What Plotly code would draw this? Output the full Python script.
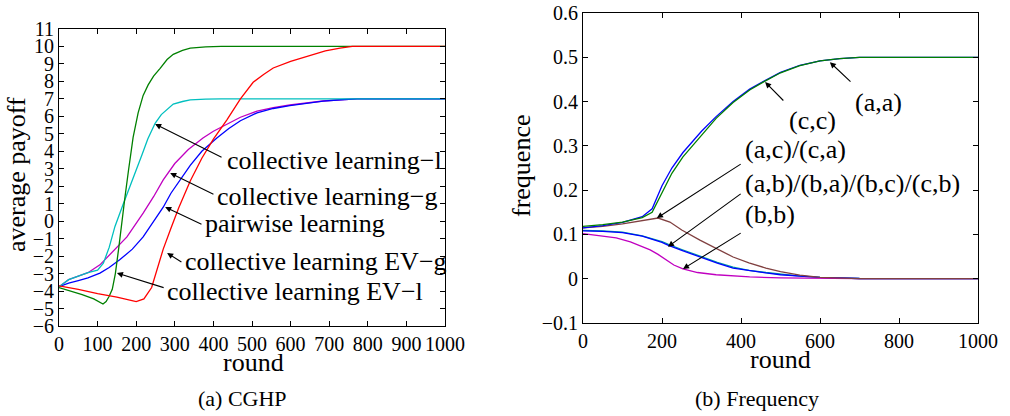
import plotly.graph_objects as go

# ---------------- data: (a) CGHP ----------------
cl_l_x = [0, 25, 50, 75, 100, 115, 130, 145, 165, 184, 200, 215, 230, 249, 265, 280, 296, 320, 340, 380, 420, 1000]
cl_l_y = [-3.75, -3.35, -3.15, -2.95, -2.8, -2.4, -1.5, -0.3, 0.9, 1.96, 2.9, 3.8, 4.7, 5.6, 6.1, 6.4, 6.7, 6.85, 6.94, 6.99, 7.0, 7.0]

cl_g_x = [0, 25, 50, 75, 106, 140, 176, 218, 245, 270, 300, 335, 373, 400, 430, 470, 513, 555, 598, 640, 684, 730, 772, 1000]
cl_g_y = [-3.75, -3.35, -3.15, -2.95, -2.5, -1.7, -0.9, 0.46, 1.4, 2.36, 3.3, 4.1, 4.76, 5.15, 5.5, 5.95, 6.3, 6.5, 6.65, 6.78, 6.88, 6.95, 7.0, 7.0]

pw_x = [0, 25, 50, 75, 106, 130, 158, 190, 218, 245, 270, 290, 313, 340, 370, 409, 440, 470, 513, 555, 598, 640, 684, 730, 772, 1000]
pw_y = [-3.75, -3.55, -3.4, -3.25, -2.97, -2.65, -2.2, -1.6, -0.9, 0.0, 0.8, 1.6, 2.36, 3.2, 4.0, 4.76, 5.3, 5.75, 6.2, 6.45, 6.62, 6.76, 6.87, 6.95, 7.0, 7.0]

ev_g_x = [0, 50, 100, 150, 200, 220, 240, 255, 270, 290, 310, 340, 370, 400, 435, 470, 503, 530, 555, 600, 642, 690, 728, 760, 1000]
ev_g_y = [-3.7, -3.9, -4.15, -4.35, -4.6, -4.45, -3.8, -2.7, -1.6, -0.4, 0.75, 2.3, 3.6, 4.7, 5.8, 7.0, 7.95, 8.4, 8.77, 9.15, 9.45, 9.75, 9.91, 10.0, 10.0]

ev_l_x = [0, 30, 60, 90, 114, 122, 130, 138, 146, 155, 163, 171, 180, 192, 205, 218, 231, 245, 262, 280, 296, 320, 340, 380, 420, 1000]
ev_l_y = [-3.8, -4.0, -4.2, -4.45, -4.74, -4.6, -4.3, -3.9, -3.0, -1.5, 0.1, 1.4, 2.9, 4.8, 6.2, 7.2, 7.8, 8.3, 8.75, 9.25, 9.55, 9.78, 9.9, 9.98, 10.0, 10.0]

# ---------------- data: (b) Frequency ----------------
aa_x = [0, 50, 100, 150, 175, 200, 225, 253, 300, 337, 380, 422, 456, 500, 549, 600, 650, 700, 1000]
aa_y = [0.115, 0.12, 0.127, 0.14, 0.158, 0.21, 0.25, 0.285, 0.333, 0.366, 0.4, 0.428, 0.445, 0.466, 0.482, 0.492, 0.497, 0.5, 0.5]

cc_x = [0, 50, 100, 150, 175, 200, 225, 253, 300, 337, 380, 422, 456, 500, 549, 600, 650, 700, 1000]
cc_y = [0.118, 0.122, 0.128, 0.138, 0.15, 0.195, 0.238, 0.275, 0.325, 0.362, 0.398, 0.426, 0.444, 0.465, 0.481, 0.492, 0.497, 0.5, 0.5]

ac_x = [0, 50, 100, 150, 190, 220, 250, 296, 340, 380, 420, 463, 500, 549, 600, 650, 700, 1000]
ac_y = [0.115, 0.118, 0.124, 0.132, 0.137, 0.128, 0.11, 0.087, 0.067, 0.049, 0.036, 0.024, 0.016, 0.008, 0.003, 0.001, 0.0, 0.0]

ab_x = [0, 50, 100, 150, 200, 215, 250, 296, 340, 380, 420, 463, 500, 549, 600, 700, 1000]
ab_y = [0.108, 0.107, 0.104, 0.096, 0.082, 0.076, 0.064, 0.049, 0.035, 0.024, 0.018, 0.013, 0.009, 0.006, 0.003, 0.0005, 0.0]
ab2_y = [0.109, 0.108, 0.105, 0.097, 0.084, 0.078, 0.066, 0.051, 0.037, 0.026, 0.019, 0.014, 0.010, 0.006, 0.003, 0.0005, 0.0]

bb_x = [0, 50, 84, 120, 170, 190, 211, 230, 253, 290, 337, 380, 422, 500, 600, 700, 1000]
bb_y = [0.102, 0.097, 0.092, 0.083, 0.065, 0.055, 0.042, 0.031, 0.022, 0.014, 0.009, 0.006, 0.004, 0.002, 0.001, 0.0, 0.0]

FONT = "'Liberation Serif', 'Times New Roman', Times, 'DejaVu Serif', serif"

fig = go.Figure()

def add(x, y, color, xa, ya, w=1.3):
    fig.add_trace(go.Scatter(x=x, y=y, mode="lines", line=dict(color=color, width=w),
                             xaxis=xa, yaxis=ya, showlegend=False, hoverinfo="skip"))

# left panel
add(cl_g_x, cl_g_y, "#C000C0", "x", "y")
add(pw_x, pw_y, "#0000FF", "x", "y")
add(cl_l_x, cl_l_y, "#00BFBF", "x", "y")
add(ev_l_x, ev_l_y, "#008000", "x", "y")
add(ev_g_x, ev_g_y, "#FF0000", "x", "y")

# right panel
add(ab_x, ab2_y, "#00A0A0", "x2", "y2")
add(ab_x, ab_y, "#0000FF", "x2", "y2")
add(bb_x, bb_y, "#C000C0", "x2", "y2")
add(ac_x, ac_y, "#804040", "x2", "y2")
add(aa_x, aa_y, "#0000FF", "x2", "y2")
add(cc_x, cc_y, "#008000", "x2", "y2")

axcommon = dict(showline=True, linecolor="black", linewidth=1, mirror="ticks",
                ticks="inside", ticklen=5, tickcolor="black", showgrid=False, zeroline=False,
                tickfont=dict(family=FONT, size=20, color="black"), automargin=False)

fig.update_layout(
    width=1010, height=416, margin=dict(l=0, r=0, t=0, b=0),
    paper_bgcolor="white", plot_bgcolor="white",
    font=dict(family=FONT, color="black"),
    xaxis=dict(domain=[59/1010, 445/1010], range=[0, 1000], dtick=100, tick0=0, anchor="y", **axcommon),
    yaxis=dict(domain=[1-326/416, 1-29/416], range=[-6, 11], dtick=1, tick0=0, anchor="x", **axcommon),
    xaxis2=dict(domain=[583/1010, 978/1010], range=[0, 1000], dtick=200, tick0=0, anchor="y2", **axcommon),
    yaxis2=dict(domain=[1-323/416, 1-13/416], range=[-0.1, 0.6], anchor="x2",
                tickvals=[-0.1, 0, 0.1, 0.2, 0.3, 0.4, 0.5, 0.6],
                ticktext=["\u22120.1", "0", "0.1", "0.2", "0.3", "0.4", "0.5", "0.6"], **axcommon),
)

ann = []

def arrow(xr, yr, tipx, tipy, tailx, taily):
    ann.append(dict(xref=xr, yref=yr, axref=xr, ayref=yr, x=tipx, y=tipy, ax=tailx, ay=taily,
                    text="", showarrow=True, arrowhead=2, arrowsize=1.1, arrowwidth=1.1, arrowcolor="black"))

def label(xr, yr, x, y, t, size=26):
    ann.append(dict(xref=xr, yref=yr, x=x, y=y, text=t, showarrow=False, xanchor="left", yanchor="middle",
                    font=dict(family=FONT, size=size, color="black")))

# left arrows and labels
arrow("x", "y", 249, 5.56, 425, 3.62)
arrow("x", "y", 288, 2.76, 404, 1.5)
arrow("x", "y", 275, 0.81, 373, -0.22)
arrow("x", "y", 280, -1.82, 321, -2.39)
arrow("x", "y", 150, -2.97, 275, -3.83)
label("x", "y", 430, 3.45, "collective learning\u2212l")
label("x", "y", 404, 1.4, "collective learning\u2212g")
label("x", "y", 373, -0.15, "pairwise learning")
label("x", "y", 321, -2.3, "collective learning EV\u2212g")
label("x", "y", 275, -4.0, "collective learning EV\u2212l")

# right arrows and labels
arrow("x2", "y2", 625, 0.489, 681, 0.442)
arrow("x2", "y2", 461, 0.444, 511, 0.399)
arrow("x2", "y2", 187, 0.137, 403, 0.261)
arrow("x2", "y2", 215, 0.072, 403, 0.194)
arrow("x2", "y2", 253, 0.022, 403, 0.105)
label("x2", "y2", 684, 0.399, "(a,a)")
label("x2", "y2", 516, 0.358, "(c,c)")
label("x2", "y2", 405, 0.291, "(a,c)/(c,a)")
label("x2", "y2", 405, 0.216, "(a,b)/(b,a)/(b,c)/(c,b)")
label("x2", "y2", 405, 0.144, "(b,b)")

# axis titles and captions (paper coords in pixels)
def ptext(px, py, t, size=26, angle=0):
    ann.append(dict(xref="paper", yref="paper", x=px/1010, y=1-py/416, text=t, showarrow=False,
                    xanchor="center", yanchor="middle", textangle=angle,
                    font=dict(family=FONT, size=size, color="black")))

ptext(17, 175, "average payoff", angle=-90)
ptext(253, 362, "round")
ptext(521, 166, "frequence", angle=-90)
ptext(780, 359, "round")
ptext(242, 398, "(a) CGHP", size=22)
ptext(757, 398, "(b) Frequency", size=22)

fig.update_layout(annotations=ann)
fig.write_html("out.html")
